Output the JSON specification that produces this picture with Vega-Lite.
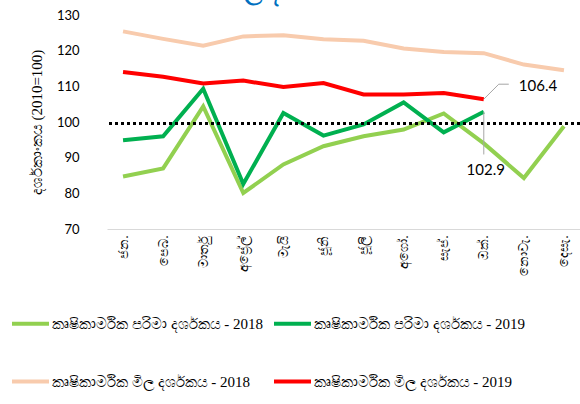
{
  "$schema": "https://vega.github.io/schema/vega-lite/v6.json",
  "width": 473,
  "height": 214,
  "autosize": {"type": "none"},
  "padding": {"left": 107, "top": 15, "right": 0, "bottom": 175},
  "background": "white",
  "title": {"text": "මිල දර්ශක", "color": "#0070C0", "fontSize": 24, "fontWeight": "bold", "anchor": "middle", "dx": -65, "offset": -19, "baseline": "bottom"},
  "config": {
    "view": {"stroke": null},
    "font": "Lato",
    "axisX": {"title": null, "labelAngle": -90, "labelFontSize": 13, "labelColor": "#000000", "ticks": false, "domainColor": "#d9d9d9", "domainWidth": 1, "labelPadding": 6, "grid": false},
    "axisY": {"titleFont": "Liberation Serif", "titleFontSize": 15, "titleFontWeight": "normal", "titleColor": "#000000", "titlePadding": 12, "labelOverlap": false, "labelFontSize": 13, "labelColor": "#000000", "ticks": false, "domain": false, "grid": false, "labelPadding": 28, "tickCount": 7}
  },
  "datasets": {
    "series": [
      {"m": "ජන.", "s": "කෘෂිකාර්මික පරිමා දර්ශකය - 2018", "v": 84.7},
      {"m": "පෙබ.", "s": "කෘෂිකාර්මික පරිමා දර්ශකය - 2018", "v": 87.0},
      {"m": "මාර්තු", "s": "කෘෂිකාර්මික පරිමා දර්ශකය - 2018", "v": 104.4},
      {"m": "අප්‍රේල්", "s": "කෘෂිකාර්මික පරිමා දර්ශකය - 2018", "v": 80.1},
      {"m": "මැයි", "s": "කෘෂිකාර්මික පරිමා දර්ශකය - 2018", "v": 88.1},
      {"m": "ජූනි", "s": "කෘෂිකාර්මික පරිමා දර්ශකය - 2018", "v": 93.2},
      {"m": "ජූලි", "s": "කෘෂිකාර්මික පරිමා දර්ශකය - 2018", "v": 96.0},
      {"m": "අගෝ.", "s": "කෘෂිකාර්මික පරිමා දර්ශකය - 2018", "v": 97.9},
      {"m": "සැප්.", "s": "කෘෂිකාර්මික පරිමා දර්ශකය - 2018", "v": 102.4},
      {"m": "ඔක්.", "s": "කෘෂිකාර්මික පරිමා දර්ශකය - 2018", "v": 94.0},
      {"m": "නොවැ.", "s": "කෘෂිකාර්මික පරිමා දර්ශකය - 2018", "v": 84.3},
      {"m": "දෙසැ.", "s": "කෘෂිකාර්මික පරිමා දර්ශකය - 2018", "v": 98.8},
      {"m": "ජන.", "s": "කෘෂිකාර්මික පරිමා දර්ශකය - 2019", "v": 94.9},
      {"m": "පෙබ.", "s": "කෘෂිකාර්මික පරිමා දර්ශකය - 2019", "v": 96.0},
      {"m": "මාර්තු", "s": "කෘෂිකාර්මික පරිමා දර්ශකය - 2019", "v": 109.3},
      {"m": "අප්‍රේල්", "s": "කෘෂිකාර්මික පරිමා දර්ශකය - 2019", "v": 82.6},
      {"m": "මැයි", "s": "කෘෂිකාර්මික පරිමා දර්ශකය - 2019", "v": 102.5},
      {"m": "ජූනි", "s": "කෘෂිකාර්මික පරිමා දර්ශකය - 2019", "v": 96.2},
      {"m": "ජූලි", "s": "කෘෂිකාර්මික පරිමා දර්ශකය - 2019", "v": 99.3},
      {"m": "අගෝ.", "s": "කෘෂිකාර්මික පරිමා දර්ශකය - 2019", "v": 105.5},
      {"m": "සැප්.", "s": "කෘෂිකාර්මික පරිමා දර්ශකය - 2019", "v": 97.1},
      {"m": "ඔක්.", "s": "කෘෂිකාර්මික පරිමා දර්ශකය - 2019", "v": 102.9},
      {"m": "ජන.", "s": "කෘෂිකාර්මික මිල දර්ශකය - 2018", "v": 125.4},
      {"m": "පෙබ.", "s": "කෘෂිකාර්මික මිල දර්ශකය - 2018", "v": 123.3},
      {"m": "මාර්තු", "s": "කෘෂිකාර්මික මිල දර්ශකය - 2018", "v": 121.4},
      {"m": "අප්‍රේල්", "s": "කෘෂිකාර්මික මිල දර්ශකය - 2018", "v": 124.0},
      {"m": "මැයි", "s": "කෘෂිකාර්මික මිල දර්ශකය - 2018", "v": 124.3},
      {"m": "ජූනි", "s": "කෘෂිකාර්මික මිල දර්ශකය - 2018", "v": 123.2},
      {"m": "ජූලි", "s": "කෘෂිකාර්මික මිල දර්ශකය - 2018", "v": 122.8},
      {"m": "අගෝ.", "s": "කෘෂිකාර්මික මිල දර්ශකය - 2018", "v": 120.6},
      {"m": "සැප්.", "s": "කෘෂිකාර්මික මිල දර්ශකය - 2018", "v": 119.6},
      {"m": "ඔක්.", "s": "කෘෂිකාර්මික මිල දර්ශකය - 2018", "v": 119.3},
      {"m": "නොවැ.", "s": "කෘෂිකාර්මික මිල දර්ශකය - 2018", "v": 116.1},
      {"m": "දෙසැ.", "s": "කෘෂිකාර්මික මිල දර්ශකය - 2018", "v": 114.5},
      {"m": "ජන.", "s": "කෘෂිකාර්මික මිල දර්ශකය - 2019", "v": 114.0},
      {"m": "පෙබ.", "s": "කෘෂිකාර්මික මිල දර්ශකය - 2019", "v": 112.7},
      {"m": "මාර්තු", "s": "කෘෂිකාර්මික මිල දර්ශකය - 2019", "v": 110.8},
      {"m": "අප්‍රේල්", "s": "කෘෂිකාර්මික මිල දර්ශකය - 2019", "v": 111.6},
      {"m": "මැයි", "s": "කෘෂිකාර්මික මිල දර්ශකය - 2019", "v": 109.8},
      {"m": "ජූනි", "s": "කෘෂිකාර්මික මිල දර්ශකය - 2019", "v": 110.9},
      {"m": "ජූලි", "s": "කෘෂිකාර්මික මිල දර්ශකය - 2019", "v": 107.7},
      {"m": "අගෝ.", "s": "කෘෂිකාර්මික මිල දර්ශකය - 2019", "v": 107.7},
      {"m": "සැප්.", "s": "කෘෂිකාර්මික මිල දර්ශකය - 2019", "v": 108.1},
      {"m": "ඔක්.", "s": "කෘෂිකාර්මික මිල දර්ශකය - 2019", "v": 106.4}
    ],
    "ref": [{"v": 99.6}],
    "ann1": [{"m": "ඔක්.", "y": 106.4, "y2": 110.6, "txt": "106.4"}],
    "ann2": [{"m": "ඔක්.", "y": 102.9, "y2": 90.9, "ly": 86.5, "txt": "102.9"}]
  },
  "layer": [
    {
      "data": {"name": "series"},
      "mark": {"type": "line", "strokeWidth": 4, "strokeJoin": "miter"},
      "encoding": {
        "x": {
          "field": "m", "type": "ordinal",
          "sort": ["ජන.", "පෙබ.", "මාර්තු", "අප්‍රේල්", "මැයි", "ජූනි", "ජූලි", "අගෝ.", "සැප්.", "ඔක්.", "නොවැ.", "දෙසැ."],
          "scale": {"type": "point", "padding": 0.4, "domain": ["ජන.", "පෙබ.", "මාර්තු", "අප්‍රේල්", "මැයි", "ජූනි", "ජූලි", "අගෝ.", "සැප්.", "ඔක්.", "නොවැ.", "දෙසැ."]}
        },
        "y": {
          "field": "v", "type": "quantitative",
          "scale": {"domain": [70, 130], "nice": false, "zero": false},
          "axis": {"title": "දර්ශකාංකය (2010=100)", "values": [70, 80, 90, 100, 110, 120, 130], "labelOverlap": false, "tickCount": 7}
        },
        "color": {
          "field": "s", "type": "nominal",
          "scale": {
            "domain": ["කෘෂිකාර්මික පරිමා දර්ශකය - 2018", "කෘෂිකාර්මික පරිමා දර්ශකය - 2019", "කෘෂිකාර්මික මිල දර්ශකය - 2018", "කෘෂිකාර්මික මිල දර්ශකය - 2019"],
            "range": ["#92D050", "#00B050", "#F8CBAD", "#FF0000"]
          },
          "legend": {
            "title": null, "orient": "none", "legendX": -97, "legendY": 288,
            "columns": 2, "direction": "horizontal",
            "symbolType": "stroke", "symbolSize": 1369, "symbolStrokeWidth": 4,
            "labelFont": "Liberation Serif", "labelFontSize": 15, "labelColor": "#000000", "labelLimit": 300,
            "labelOffset": 1, "rowPadding": 29, "columnPadding": 3
          }
        }
      }
    },
    {
      "data": {"name": "ref"},
      "mark": {"type": "rule", "color": "#000000", "strokeWidth": 3, "strokeDash": [3, 3]},
      "encoding": {"y": {"field": "v", "type": "quantitative", "axis": {"title": "දර්ශකාංකය (2010=100)", "values": [70, 80, 90, 100, 110, 120, 130], "labelOverlap": false, "tickCount": 7}}}
    },
    {
      "data": {"name": "ann1"},
      "mark": {"type": "rule", "color": "#a6a6a6", "strokeWidth": 1, "x2Offset": 15},
      "encoding": {
        "x": {"field": "m", "type": "ordinal"},
        "x2": {"field": "m"},
        "y": {"field": "y", "type": "quantitative", "axis": {"title": "දර්ශකාංකය (2010=100)", "values": [70, 80, 90, 100, 110, 120, 130], "labelOverlap": false, "tickCount": 7}},
        "y2": {"field": "y2"}
      }
    },
    {
      "data": {"name": "ann1"},
      "mark": {"type": "rule", "color": "#a6a6a6", "strokeWidth": 1, "xOffset": 15, "x2Offset": 25},
      "encoding": {
        "x": {"field": "m", "type": "ordinal"},
        "x2": {"field": "m"},
        "y": {"field": "y2", "type": "quantitative", "axis": {"title": "දර්ශකාංකය (2010=100)", "values": [70, 80, 90, 100, 110, 120, 130], "labelOverlap": false, "tickCount": 7}}
      }
    },
    {
      "data": {"name": "ann1"},
      "mark": {"type": "text", "fontSize": 15, "color": "#000000", "baseline": "middle", "align": "left", "dx": 35, "dy": 2},
      "encoding": {
        "x": {"field": "m", "type": "ordinal"},
        "y": {"field": "y2", "type": "quantitative", "axis": {"title": "දර්ශකාංකය (2010=100)", "values": [70, 80, 90, 100, 110, 120, 130], "labelOverlap": false, "tickCount": 7}},
        "text": {"field": "txt"}
      }
    },
    {
      "data": {"name": "ann2"},
      "mark": {"type": "rule", "color": "#a6a6a6", "strokeWidth": 1},
      "encoding": {
        "x": {"field": "m", "type": "ordinal"},
        "y": {"field": "y", "type": "quantitative", "axis": {"title": "දර්ශකාංකය (2010=100)", "values": [70, 80, 90, 100, 110, 120, 130], "labelOverlap": false, "tickCount": 7}},
        "y2": {"field": "y2"}
      }
    },
    {
      "data": {"name": "ann2"},
      "mark": {"type": "text", "fontSize": 15, "color": "#000000", "baseline": "middle", "align": "center", "dx": 2},
      "encoding": {
        "x": {"field": "m", "type": "ordinal"},
        "y": {"field": "ly", "type": "quantitative", "axis": {"title": "දර්ශකාංකය (2010=100)", "values": [70, 80, 90, 100, 110, 120, 130], "labelOverlap": false, "tickCount": 7}},
        "text": {"field": "txt"}
      }
    }
  ]
}
